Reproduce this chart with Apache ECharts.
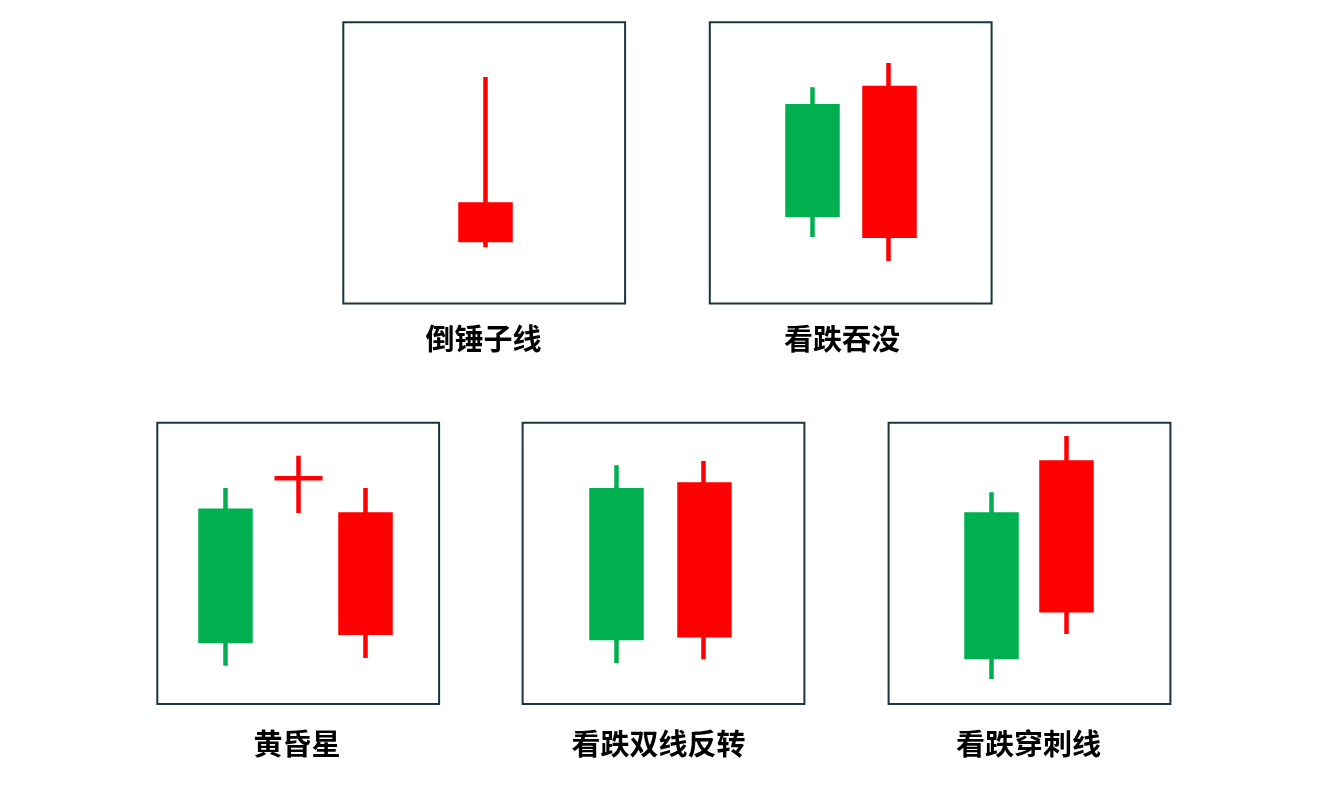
<!DOCTYPE html>
<html><head><meta charset="utf-8">
<script src="https://cdn.jsdelivr.net/npm/echarts@6/dist/echarts.min.js"></script>
<style>html,body{margin:0;padding:0;background:#fff}#c{width:1340px;height:797px}</style>
</head><body><div id="c"></div>
<script>
// ---- data: each candle is [open, close, lowest, highest] ----
const panelTitles = ['倒锤子线', '看跌吞没', '黄昏星', '看跌双线反转', '看跌穿刺线'];

const invHammerCats = ['K1'];
const invHammer = [[35.2, 22.6, 20.0, 80.5]];

const engulfCats = ['K1', 'K2'];
const engulf = [[31.5, 70.1, 23.6, 76.9], [76.6, 24.1, 15.1, 85.5]];

const eveningCats = ['K1', 'K3'];
const evening = [[22.4, 68.7, 13.6, 76.8], [67.4, 25.4, 16.4, 76.8]];
const eveningStarCats = ['K2'];
const eveningStar = [[80.3, 80.3, 67.9, 88.3]];

const doubleCats = ['K1', 'K2'];
const doubleRev = [[23.5, 76.0, 14.5, 84.9], [78.1, 24.5, 15.9, 86.4]];

const piercingCats = ['K1', 'K2'];
const piercing = [[16.7, 67.4, 8.9, 75.3], [85.9, 33.4, 24.9, 95.3]];

// ---- layout ----
const ROW_TOP = [22.2, 422.8];
const ROW_H = 281.3;
const frames = [
  { left: 343.3, row: 0 },
  { left: 709.8, row: 0 },
  { left: 157.3, row: 1 },
  { left: 522.6, row: 1 },
  { left: 888.6, row: 1 }
];
const FRAME_W = 281.8;
const labelPos = [[483.5, 338.5], [842, 338.5], [297, 743.5], [658.5, 743.5], [1028.5, 743.5]];

const candleSets = [
  { left: 445.8, width: 80, row: 0, cats: invHammerCats, data: invHammer, bw: 50.5 },
  { left: 774.15, width: 153.4, row: 0, cats: engulfCats, data: engulf, bw: 50.5 },
  { left: 155.8, width: 280, row: 1, cats: eveningCats, data: evening, bw: 50.5 },
  { left: 258.7, width: 80, row: 1, cats: eveningStarCats, data: eveningStar, bw: 48.2 },
  { left: 572.35, width: 175.8, row: 1, cats: doubleCats, data: doubleRev, bw: 50.5 },
  { left: 953.55, width: 151, row: 1, cats: piercingCats, data: piercing, bw: 50.5 }
];

const GREEN = '#00b050', RED = '#ff0000';
const grid = [], xAxis = [], yAxis = [], series = [];

frames.forEach((f) => {
  const gi = grid.length;
  grid.push({ left: f.left, top: ROW_TOP[f.row], width: FRAME_W, height: ROW_H,
    show: true, borderColor: '#1b3441', borderWidth: 2, backgroundColor: 'transparent' });
  xAxis.push({ type: 'value', gridIndex: gi, show: false, min: 0, max: 1 });
  yAxis.push({ type: 'value', gridIndex: gi, show: false, min: 0, max: 1 });
});

candleSets.forEach((c) => {
  const gi = grid.length;
  grid.push({ left: c.left, top: ROW_TOP[c.row], width: c.width, height: ROW_H, show: false });
  xAxis.push({ type: 'category', gridIndex: gi, data: c.cats, show: false, boundaryGap: true });
  yAxis.push({ type: 'value', gridIndex: gi, min: 0, max: 100, show: false, splitLine: { show: false } });
  series.push({
    type: 'candlestick', xAxisIndex: gi, yAxisIndex: gi, data: c.data, barWidth: c.bw,
    silent: true, animation: false,
    itemStyle: { color: GREEN, color0: RED, borderColor: GREEN, borderColor0: RED,
      borderColorDoji: RED, borderWidth: 4.5 }
  });
});

const graphic = panelTitles.map((t, i) => ({
  type: 'text', x: labelPos[i][0], y: labelPos[i][1], silent: true,
  style: { text: t, fill: '#000', font: 'bold 29px "Noto Sans CJK SC"',
    textAlign: 'center', align: 'center', textVerticalAlign: 'middle', verticalAlign: 'middle' }
}));

const chart = echarts.init(document.getElementById('c'), null, { renderer: 'canvas' });
chart.setOption({ animation: false, backgroundColor: '#fff', grid, xAxis, yAxis, series, graphic });
</script></body></html>
